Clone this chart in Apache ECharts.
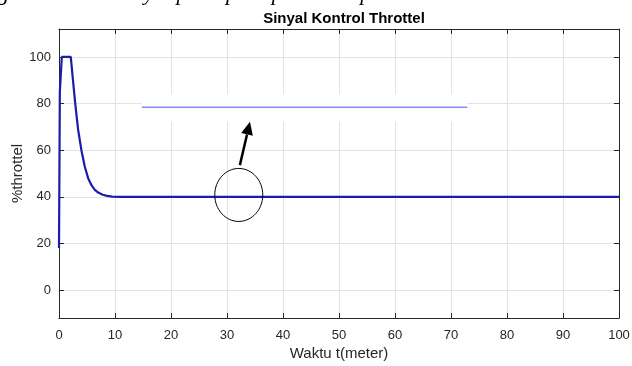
<!DOCTYPE html>
<html>
<head>
<meta charset="utf-8">
<script src="https://cdn.jsdelivr.net/npm/echarts@6/dist/echarts.min.js"></script>
<style>
  html, body { margin: 0; padding: 0; background: #fff; }
  #chart { width: 632px; height: 366px; }
</style>
</head>
<body>
<div id="chart"></div>
<script>
// Throttle control signal
const timeValues = [0, 0.15, 0.5, 2.1, 2.5, 2.9, 3.4, 4.0, 4.6, 5.2, 5.8, 6.4, 7.0, 7.8, 8.6, 9.5, 11, 20, 100];
const throttleValues = [18, 85, 100, 100, 90, 80, 69, 60, 53, 48, 45, 43, 41.8, 40.9, 40.4, 40.1, 40, 40, 40];

const xTicks = [0, 10, 20, 30, 40, 50, 60, 70, 80, 90, 100];
const yTicks = [0, 20, 40, 60, 80, 100];

// annotation anchors (data units)
const circleCenter = [32.1, 40.8];
const arrowFrom = [32.3, 53.6];
const arrowTo = [34.1, 72.2];
const insetLine = [[14.8, 78.4], [72.9, 78.4]];
const insetBand = [[14.8, 84.1], [72.9, 72.2]];

const axisColor = '#262626';
const gridColor = '#e3e3e3';
const font = 'Liberation Sans, Arial, sans-serif';

function initializeChart() {
    const el = document.getElementById('chart');
    const chart = echarts.init(el, null, { renderer: 'canvas' });

    const seriesData = timeValues.map((t, i) => [t, throttleValues[i]]);

    const boxLine = { show: true, onZero: false, lineStyle: { color: axisColor, width: 1 } };
    const inTick = { show: true, inside: true, length: 5, lineStyle: { color: axisColor } };

    const option = {
        animation: false,
        backgroundColor: '#fff',
        title: {
            text: 'Sinyal Kontrol Throttel',
            left: 339,
            textAlign: 'center',
            top: 6,
            textStyle: { fontFamily: font, fontSize: 15, fontWeight: 'bold', color: '#000' }
        },
        grid: { left: 59, right: 13, top: 29, bottom: 48, outerBoundsMode: 'none' },
        xAxis: [
            {
                type: 'value',
                min: 0,
                max: 100,
                interval: 10,
                name: 'Waktu t(meter)',
                nameLocation: 'middle',
                nameGap: 28,
                nameMoveOverlap: false,
                nameTextStyle: { fontFamily: font, fontSize: 15, color: axisColor },
                axisLine: boxLine,
                axisTick: inTick,
                axisLabel: { fontFamily: font, fontSize: 13, color: axisColor, margin: 11 },
                splitLine: { show: true, lineStyle: { color: gridColor, width: 1 } }
            },
            {
                type: 'value',
                position: 'top',
                min: 0,
                max: 100,
                interval: 10,
                axisLine: boxLine,
                axisTick: inTick,
                axisLabel: { show: false },
                splitLine: { show: false }
            }
        ],
        yAxis: [
            {
                type: 'value',
                min: -12,
                max: 112,
                name: '%throttel',
                nameLocation: 'middle',
                nameGap: 34,
                nameMoveOverlap: false,
                nameTextStyle: { fontFamily: font, fontSize: 15, color: axisColor },
                axisLine: boxLine,
                axisTick: Object.assign({ customValues: yTicks }, inTick),
                axisLabel: { fontFamily: font, fontSize: 13, color: axisColor, margin: 8, customValues: yTicks },
                splitLine: { show: true, lineStyle: { color: gridColor, width: 1 } }
            },
            {
                type: 'value',
                position: 'right',
                min: -12,
                max: 112,
                axisLine: boxLine,
                axisTick: Object.assign({ customValues: yTicks }, inTick),
                axisLabel: { show: false, customValues: yTicks },
                splitLine: { show: false }
            }
        ],
        series: [{
            type: 'line',
            data: seriesData,
            showSymbol: false,
            smooth: false,
            lineStyle: { color: '#1c1cab', width: 2.2 },
            z: 3
        }]
    };

    chart.setOption(option);

    // annotations placed through the chart's own scales
    const px = p => chart.convertToPixel({ gridIndex: 0 }, p);
    const c = px(circleCenter);
    const a0 = px(arrowFrom);
    const a1 = px(arrowTo);
    const l0 = px(insetLine[0]);
    const l1 = px(insetLine[1]);
    const b0 = px(insetBand[0]);
    const b1 = px(insetBand[1]);

    // arrow head
    const dx = a1[0] - a0[0], dy = a1[1] - a0[1];
    const len = Math.sqrt(dx * dx + dy * dy);
    const ux = dx / len, uy = dy / len;
    const headLen = 13, headW = 6;
    const base = [a1[0] - ux * headLen, a1[1] - uy * headLen];
    const head = [
        a1,
        [base[0] - uy * headW, base[1] + ux * headW],
        [base[0] + uy * headW, base[1] - ux * headW]
    ];

    chart.setOption({
        graphic: [
            {
                type: 'text',
                left: -2,
                top: -17,
                style: {
                    text: 'gambar 4.12 Sinyal pada pase pelatihan plant',
                    font: 'italic 22px "Liberation Serif", serif',
                    fill: '#000'
                },
                z: 10
            },
            {
                type: 'rect',
                shape: { x: b0[0], y: b0[1], width: b1[0] - b0[0], height: b1[1] - b0[1] },
                style: { fill: '#fff' },
                z: 5
            },
            {
                type: 'line',
                shape: { x1: l0[0], y1: l0[1], x2: l1[0], y2: l1[1] },
                style: { stroke: '#8a8af5', lineWidth: 1.5 },
                z: 6
            },
            {
                type: 'ellipse',
                shape: { cx: c[0], cy: c[1], rx: 24, ry: 26.5 },
                style: { fill: 'none', stroke: '#000', lineWidth: 1 },
                z: 6
            },
            {
                type: 'line',
                shape: { x1: a0[0], y1: a0[1], x2: base[0], y2: base[1] },
                style: { stroke: '#000', lineWidth: 2.5 },
                z: 6
            },
            {
                type: 'polygon',
                shape: { points: head },
                style: { fill: '#000' },
                z: 6
            }
        ]
    });

    window.addEventListener('resize', () => chart.resize());
}

document.addEventListener('DOMContentLoaded', initializeChart);
</script>
</body>
</html>
